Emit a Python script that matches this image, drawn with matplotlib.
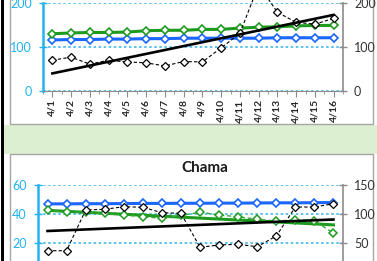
import numpy as np
import matplotlib.pyplot as plt
from matplotlib.patches import Rectangle

W, H = 377, 261

dates = ['4/1', '4/2', '4/3', '4/4', '4/5', '4/6', '4/7', '4/8',
         '4/9', '4/10', '4/11', '4/12', '4/13', '4/14', '4/15', '4/16']

# upper chart (title is cut off in the screenshot)
top_green = [130, 132, 133, 133, 134, 137, 138, 138, 140, 140, 143, 145, 146, 148, 149, 149]
top_blue = [116, 117, 117, 118, 118, 119, 119, 120, 120, 120, 120, 120, 121, 121, 121, 121]
top_dashed = [70, 77, 61, 70, 66, 64, 57, 67, 66, 98, 131, 241, 179, 156, 152, 165]
top_trend = [40, 173]

# Chama
chama_blue = [47.0, 47.0, 47.1, 47.1, 47.2, 47.3, 47.3, 47.4, 47.4, 47.5, 47.5, 47.6, 47.7, 47.7, 47.8, 47.9]
chama_green = [42.8, 41.2, 41.2, 40.5, 39.3, 38.2, 37.0, 39.0, 41.2, 39.3, 38.1, 36.3, 35.2, 35.9, 35.4, 26.7]
chama_green_trend = [42.5, 32.5]
chama_dashed = [36.7, 36.7, 106.9, 108.1, 112.6, 111.6, 102.2, 101.2, 42.6, 46.6, 47.8, 43.6, 62.0, 112.0, 112.0, 117.8]
chama_trend = [70.7, 90.5]

CYAN = '#22B2F0'
GRID = '#5CC3EE'
GREEN = '#1E9B1E'
BLUE = '#1A66FF'
GRAY = '#8c8c8c'

plt.rcParams['font.family'] = ['Lato', 'DejaVu Sans']

fig = plt.figure(figsize=(W / 100, H / 100), dpi=100)


def fx(px):
    return px / W


def fy(py):
    return 1 - py / H


def rect(x0, y0, x1, y1, **kw):
    fig.add_artist(Rectangle((fx(x0), fy(y1)), fx(x1) - fx(x0), fy(y0) - fy(y1),
                             transform=fig.transFigure, **kw))


# sheet background pieces
rect(3.5, 124.5, 377, 153.5, facecolor='#dcefd0', edgecolor='none', zorder=-3)
rect(10, -5, 373, 124, facecolor='white', edgecolor='#a6a6a6', lw=1, zorder=-2)
rect(10, 154, 373, 275, facecolor='white', edgecolor='#a6a6a6', lw=1, zorder=-2)
rect(1, -1, 3.5, 262, facecolor='black', edgecolor='none', zorder=-1)


def style_axes(ax, ax2, yticks, yticks2):
    ax.set_facecolor('none')
    ax.set_xlim(-0.5, len(dates) - 0.5)
    ax.set_yticks(yticks)
    ax2.set_yticks(yticks2)
    ax.set_axisbelow(True)
    ax.grid(axis='y', color=GRID, linestyle=(0, (1.3, 1.3)), lw=1.4)
    ax.grid(axis='x', visible=False)
    for s in ['top', 'right']:
        ax.spines[s].set_visible(False)
    for s in ['top', 'left', 'bottom']:
        ax2.spines[s].set_visible(False)
    ax.spines['left'].set_color(CYAN)
    ax.spines['left'].set_linewidth(1.8)
    ax.spines['bottom'].set_color(GRAY)
    ax2.spines['right'].set_color(GRAY)
    ax2.spines['right'].set_linewidth(1.2)
    ax.tick_params(axis='y', direction='inout', length=6, width=1, colors=CYAN,
                   labelsize=9, pad=5)
    ax2.tick_params(axis='y', direction='inout', length=6, width=1, color=GRAY,
                    labelcolor='#333333', labelsize=9, pad=5)


# ---- upper chart ----
ax1 = fig.add_axes([fx(43), fy(91), fx(343) - fx(43), (91 - 3) / H])
ax1b = ax1.twinx()
ax1.plot(dates, top_blue, color=BLUE, lw=2.2, marker='D', ms=4, mfc='white', mec=BLUE, mew=1.2)
ax1.plot(dates, top_green, color=GREEN, lw=2.2, marker='D', ms=4, mfc='white', mec=GREEN, mew=1.2)
ax1b.plot(dates, top_dashed, color='black', lw=0.8, ls=(0, (3, 2)), marker='D', ms=4,
          mfc='white', mec='black', mew=0.9, clip_on=False)
ax1b.plot([dates[0], dates[-1]], top_trend, color='black', lw=1.9)
ax1.set_ylim(0, 200)
ax1b.set_ylim(0, 200)
style_axes(ax1, ax1b, [0, 100, 200], [0, 100, 200])
ax1.set_xticks(np.arange(-0.5, len(dates), 1), minor=True)
ax1.tick_params(axis='x', which='major', direction='out', length=4, color=GRAY,
                labelsize=7.5, labelcolor='#262626', labelrotation=90, pad=2)
ax1.tick_params(axis='x', which='minor', direction='out', length=2, color=GRAY)
for lab in ax1.get_xticklabels():
    lab.set_fontweight('bold')

# ---- Chama ----
ax3 = fig.add_axes([fx(38), fy(272), fx(343) - fx(38), 87 / H])
ax3b = ax3.twinx()
ax3.plot(dates, chama_blue, color=BLUE, lw=2.2, marker='D', ms=4, mfc='white', mec=BLUE, mew=1.2)
ax3.plot([dates[0], dates[-1]], chama_green_trend, color=GREEN, lw=2.2)
ax3.plot(dates, chama_green, color='#33aa33', lw=1, ls=(0, (3, 2)), marker='D', ms=4,
         mfc='white', mec=GREEN, mew=1.1)
ax3b.plot(dates, chama_dashed, color='black', lw=0.8, ls=(0, (3, 2)), marker='D', ms=4,
          mfc='white', mec='black', mew=0.9)
ax3b.plot([dates[0], dates[-1]], chama_trend, color='black', lw=1.9)
ax3.set_ylim(0, 60)
ax3b.set_ylim(0, 150)
style_axes(ax3, ax3b, [0, 20, 40, 60], [0, 50, 100, 150])
ax3.tick_params(axis='x', bottom=False, labelbottom=False)

fig.text(fx(205), fy(168), 'Chama', ha='center', va='center', fontsize=11,
         fontweight='bold', color='#1a1a1a')

fig.savefig('out.png', dpi=100)
